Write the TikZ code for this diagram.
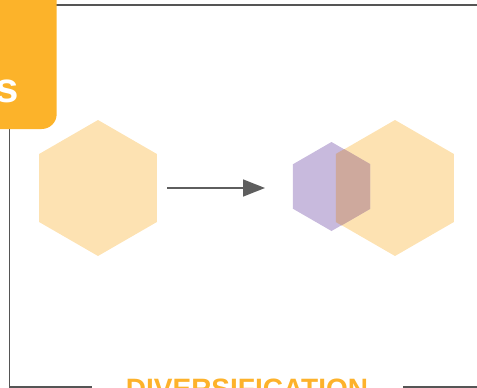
\documentclass[tikz,border=0pt]{standalone}
\usepackage{fontspec}
\setmainfont{Liberation Sans}
\usetikzlibrary{shapes.geometric,arrows.meta}
\definecolor{frameGray}{HTML}{555555}
\definecolor{tabOrange}{HTML}{FCB32A}
\definecolor{hexOrange}{HTML}{FDE2B2}
\definecolor{hexPurple}{HTML}{C8BADD}
\definecolor{hexMix}{HTML}{CEA99D}
\definecolor{arrowGray}{HTML}{5E5E5E}
\definecolor{titleOrange}{HTML}{FDB22B}
\tikzset{
  frameline/.style={draw=frameGray,line width=1.3pt},
  hexa/.style={regular polygon,regular polygon sides=6,shape border rotate=30,inner sep=0pt,draw=none},
  bighex/.style={hexa,minimum size=136pt,fill=hexOrange},
  smallhex/.style={hexa,minimum size=89pt,fill=hexPurple},
  flow/.style={draw=arrowGray,line width=1.5pt,-{Triangle[length=22pt,width=17pt]}},
}
\begin{document}
\begin{tikzpicture}[x=1pt,y=-1pt]
\useasboundingbox (0,0) rectangle (477,388);
% frame
\coordinate (tl) at (9.3,5);
\coordinate (tr) at (480,5);
\coordinate (bl) at (9.3,387);
\coordinate (bgl) at (92,387);
\coordinate (bgr) at (403,387);
\coordinate (br) at (480,387);
\draw[frameline] (tr) -- (tl) -- (bl) -- (bgl);
\draw[frameline] (bgr) -- (br);
% tab
\fill[tabOrange,rounded corners=15pt] (-20,-20) rectangle (56.7,129);
\node[anchor=base east,text=white,font=\bfseries\fontsize{42}{42}\selectfont,inner sep=0pt] (tab) at (19,102) {s};
% hexagons
\node[bighex] (L) at (98,188) {};
\node[bighex] (R) at (395,188) {};
\node[smallhex] (P) at (331.5,186.5) {};
\begin{scope}
  \clip (R.corner 1) -- (R.corner 2) -- (R.corner 3) -- (R.corner 4) -- (R.corner 5) -- (R.corner 6) -- cycle;
  \fill[hexMix] (P.corner 1) -- (P.corner 2) -- (P.corner 3) -- (P.corner 4) -- (P.corner 5) -- (P.corner 6) -- cycle;
\end{scope}
% arrow
\coordinate (a1) at (167,188);
\coordinate (a2) at (265,188);
\draw[flow] (a1) -- (a2);
% title
\node[anchor=base,text=titleOrange,font=\bfseries\fontsize{28}{28}\selectfont,inner sep=0pt] (title) at (247,398) {DIVERSIFICATION};
\end{tikzpicture}
\end{document}
